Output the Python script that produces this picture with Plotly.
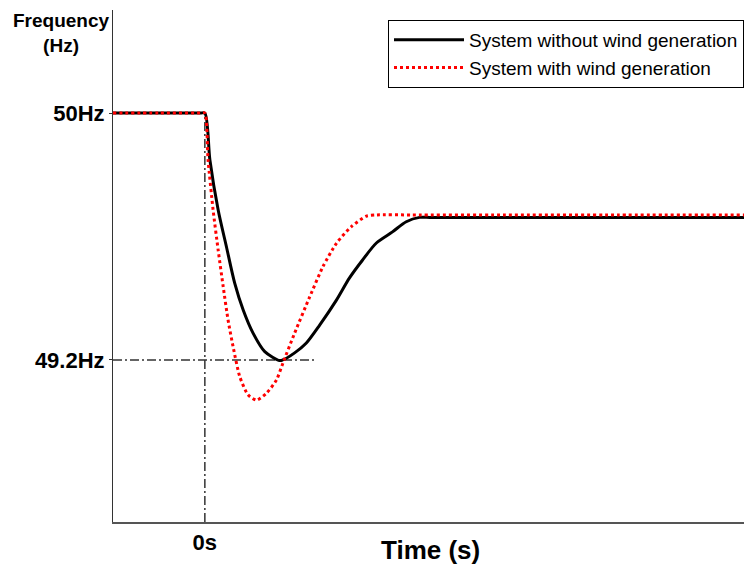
import plotly.graph_objects as go

# Frequency response after a generation loss (time in s, frequency in Hz)
t_without = [-4.0, -2.0, -0.2, 0.0, 0.22, 0.58, 0.94, 1.30, 1.67, 2.10, 2.61, 3.26,
             3.39, 3.91, 4.42, 5.00, 5.73, 6.30, 6.87, 7.47, 8.17, 8.77, 9.35,
             9.8, 11.0, 15.0, 20.0, 23.5]
f_without = [50.0, 50.0, 50.0, 50.0, 49.848, 49.686, 49.567, 49.449, 49.362, 49.287,
             49.227, 49.198, 49.200, 49.223, 49.255, 49.313, 49.394, 49.466, 49.524,
             49.579, 49.615, 49.648, 49.662, 49.662, 49.662, 49.662, 49.662, 49.662]

t_with = [-4.0, -2.0, -0.2, 0.0, 0.14, 0.36, 0.58, 0.80, 1.01, 1.23, 1.52, 1.88, 2.25,
          2.68, 3.12, 3.40, 3.91, 4.57, 5.14, 5.73, 6.38, 7.03, 7.5, 9.0, 13.0,
          18.0, 23.5]
f_with = [50.0, 50.0, 50.0, 50.0, 49.848, 49.686, 49.556, 49.437, 49.330, 49.243,
          49.146, 49.087, 49.070, 49.092, 49.135, 49.190, 49.287, 49.405, 49.502,
          49.578, 49.632, 49.666, 49.670, 49.670, 49.670, 49.670, 49.670]

y_ticks = [50.0, 49.2]
y_tick_labels = ["50Hz", "49.2Hz"]
x_ticks = [0.0]
x_tick_labels = ["0s"]

x_range = [-4.0, 23.48]
y_range = [48.675, 50.334]
nadir_marker_end = 4.78

FONT = "Liberation Sans, Arial, sans-serif"

fig = go.Figure()
fig.add_trace(go.Scatter(
    x=t_without, y=f_without, mode="lines",
    name="System without wind generation", legendgroup="a",
    line=dict(color="black", width=3, shape="spline", smoothing=0.8),
))
fig.add_trace(go.Scatter(
    x=t_with, y=f_with, mode="lines",
    name="System with wind generation", legendgroup="b",
    line=dict(color="#ff0000", width=3, dash="dot", shape="spline", smoothing=0.6),
))

# dash-dot guides for the disturbance instant and the 49.2 Hz nadir
guide = dict(color="#333333", width=1.5, dash="9px,3px,2px,3px")
fig.add_shape(type="line", xref="x", yref="y", x0=x_ticks[0], x1=x_ticks[0],
              y0=y_range[0], y1=y_ticks[0], line=guide, layer="below")
fig.add_shape(type="line", xref="x", yref="y", x0=x_range[0], x1=nadir_marker_end,
              y0=y_ticks[1], y1=y_ticks[1], line=guide, layer="below")

fig.add_annotation(
    text="<b>Frequency</b><br><b>(Hz)</b>", xref="paper", yref="paper",
    x=-0.082, y=1.003, xanchor="center", yanchor="top", showarrow=False,
    font=dict(family=FONT, size=19, color="black"), align="center",
)
fig.add_annotation(
    text="<b>Time (s)</b>", xref="paper", yref="paper",
    x=0.503, y=-0.0547, xanchor="center", yanchor="middle", showarrow=False,
    font=dict(family=FONT, size=26, color="black"),
)

fig.update_layout(
    width=745, height=569,
    margin=dict(l=113, r=1, t=10, b=47, autoexpand=False),
    paper_bgcolor="white", plot_bgcolor="white",
    font=dict(family=FONT, color="black"),
    showlegend=True,
    legend=dict(
        x=1.0, xanchor="right", y=0.9805, yanchor="top",
        bordercolor="black", borderwidth=1, bgcolor="white",
        font=dict(family=FONT, size=19, color="black"),
        itemwidth=70, tracegroupgap=0,
    ),
    xaxis=dict(
        range=x_range, showgrid=False, zeroline=False, automargin=False,
        showline=True, linecolor="#555555", linewidth=2,
        tickmode="array", tickvals=x_ticks, ticktext=x_tick_labels,
        ticks="", tickfont=dict(family=FONT, size=22, color="black", weight="bold"),
    ),
    yaxis=dict(
        range=y_range, showgrid=False, zeroline=False, automargin=False,
        showline=True, linecolor="#333333", linewidth=1,
        tickmode="array", tickvals=y_ticks, ticktext=y_tick_labels,
        ticks="outside", ticklen=3, tickcolor="#333333",
        tickfont=dict(family=FONT, size=22, color="black", weight="bold"),
    ),
)

fig.write_html("out.html")
